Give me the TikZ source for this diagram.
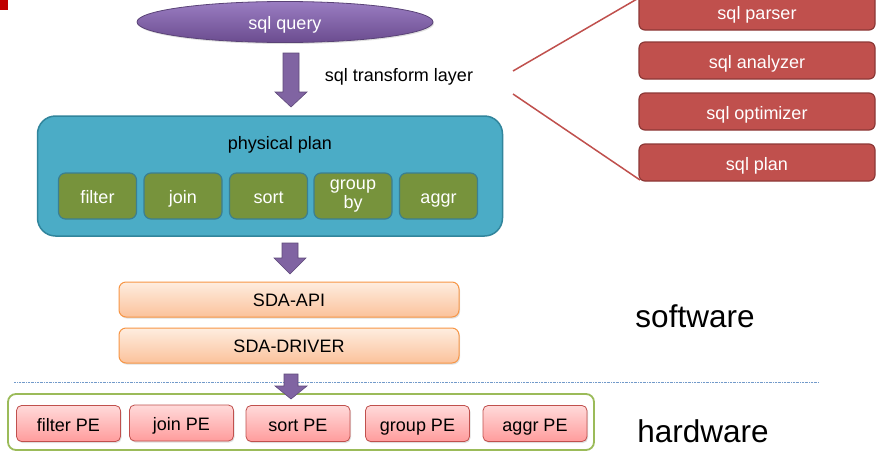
\documentclass[tikz,border=0pt]{standalone}
\usepackage{fontspec}
\setmainfont{Liberation Sans}
\usetikzlibrary{shapes.geometric,shadows}
\definecolor{sqlred}{HTML}{C0504D}
\definecolor{sqlredd}{HTML}{8C3836}
\definecolor{planfill}{HTML}{4BACC6}
\definecolor{planborder}{HTML}{31859C}
\definecolor{opgreen}{HTML}{77933C}
\definecolor{opborder}{HTML}{3A7F92}
\definecolor{purtop}{HTML}{9A7DC2}
\definecolor{purbot}{HTML}{6B4C8F}
\definecolor{purborder}{HTML}{5A4377}
\definecolor{arrfill}{HTML}{8064A2}
\definecolor{arrborder}{HTML}{5F4A7A}
\definecolor{orgtop}{HTML}{FEEDE0}
\definecolor{orgbot}{HTML}{FBC29B}
\definecolor{orgborder}{HTML}{F79646}
\definecolor{pinktop}{HTML}{FFDADA}
\definecolor{pinkbot}{HTML}{FF9C9C}
\definecolor{hwgreen}{HTML}{9BBB59}
\definecolor{dotblue}{HTML}{4F81BD}
\definecolor{cornerred}{HTML}{C00000}
\tikzset{
  base/.style={font=\fontsize{18}{20}\selectfont},
  fixtext/.style={text height=13pt, text depth=4pt},
  lowtext/.style={text height=15.5pt, text depth=0.5pt},
  redbox/.style={base, lowtext, rectangle, rounded corners=6pt, fill=sqlred, draw=sqlredd, line width=1.2pt, text=white, minimum width=236pt, minimum height=37pt},
  opboxbase/.style={base, rectangle, rounded corners=7pt, fill=opgreen, draw=opborder, line width=1.2pt, text=white, minimum width=78pt, minimum height=46pt, align=center, inner sep=1pt},
  opbox/.style={opboxbase, lowtext},
  sdabox/.style={base, text height=14pt, text depth=1pt, rectangle, rounded corners=7pt, top color=orgtop, bottom color=orgbot, draw=orgborder, line width=1pt, minimum width=340pt, minimum height=35pt, drop shadow={shadow xshift=1pt, shadow yshift=-1.5pt, opacity=0.25}},
  pebox/.style={base, lowtext, rectangle, rounded corners=5pt, top color=pinktop, bottom color=pinkbot, draw=sqlred, line width=0.8pt, minimum width=104pt, minimum height=36pt, drop shadow={shadow xshift=1pt, shadow yshift=-1.5pt, opacity=0.25}},
  barrow/.style={fill=arrfill, draw=arrborder, line width=0.6pt, line join=miter},
  bigtext/.style={font=\fontsize{31.5}{34}\selectfont, text height=22pt, text depth=0pt},
  redline/.style={draw=sqlred, line width=1.5pt}
}
\begin{document}
\begin{tikzpicture}[x=1pt,y=-1pt]
\useasboundingbox (0,0) rectangle (890,458);
\fill[white] (0,0) rectangle (890,458);
% corner mark
\fill[cornerred] (0,0) rectangle (8,10);

% sql query
\node[base, text height=14pt, text depth=0pt, ellipse, top color=purtop, bottom color=purbot, draw=purborder, line width=0.8pt, text=white, minimum width=296pt, minimum height=41pt, drop shadow={shadow xshift=1pt, shadow yshift=-1.5pt, opacity=0.25}] (query) at (285,22) {sql query};

% arrow 1
\draw[barrow] (283,53) -- (299,53) -- (299,92) -- (307,92) -- (291,107) -- (275,92) -- (283,92) -- cycle;
\node[base, fixtext] (trans) at (399,76.5) {sql transform layer};

% sql pipeline boxes
\node[redbox] (parser) at (757,11.5) {sql parser};
\node[redbox] (analyzer) at (757,60.5) {sql analyzer};
\node[redbox] (optimizer) at (757,111.5) {sql optimizer};
\node[redbox] (splan) at (757,162.5) {sql plan};

\coordinate (l1a) at (513,71);
\coordinate (l1b) at (637,-1);
\coordinate (l2a) at (513,94);
\coordinate (l2b) at (640,180);
\draw[redline] (l1a) -- (l1b);
\draw[redline] (l2a) -- (l2b);

% physical plan
\node[rectangle, rounded corners=18pt, fill=planfill, draw=planborder, line width=1.5pt, minimum width=465pt, minimum height=120pt] (plan) at (270,176) {};
\node[base, fixtext] (planlabel) at (280,144.5) {physical plan};
\node[opbox] (filter) at (97.5,196) {filter};
\node[opbox] (join) at (183,196) {join};
\node[opbox] (sort) at (268.5,196) {sort};
\node[opboxbase, font=\fontsize{18}{19}\selectfont] (group) at (353,196) {group\\by};
\node[opbox] (aggr) at (438.5,196) {aggr};

% arrow 2
\draw[barrow] (282,243) -- (298,243) -- (298,258) -- (306,258) -- (290,274) -- (274,258) -- (282,258) -- cycle;

% SDA layers
\node[sdabox] (api) at (289,299.5) {SDA-API};
\node[sdabox] (driver) at (289,345.5) {SDA-DRIVER};

% separator
\coordinate (sepa) at (14,382);
\coordinate (sepb) at (819,382);
\draw[dotblue!80, line width=0.7pt, dash pattern=on 2pt off 1pt on 0.5pt off 1pt] (sepa) -- (sepb);

% hardware group
\node[rectangle, rounded corners=8pt, draw=hwgreen, line width=1.8pt, minimum width=586pt, minimum height=56pt] (hw) at (301,422) {};

% arrow 3
\draw[barrow] (284,374) -- (298,374) -- (298,386) -- (307,386) -- (291,399) -- (275,386) -- (284,386) -- cycle;

\node[pebox] (filterpe) at (68.5,423.5) {filter PE};
\node[pebox] (joinpe) at (181.5,423) {join PE};
\node[pebox] (sortpe) at (298,423.5) {sort PE};
\node[pebox] (grouppe) at (417.5,423.5) {group PE};
\node[pebox] (aggrpe) at (535,423.5) {aggr PE};

\node[bigtext] (sw) at (695,316) {software};
\node[bigtext] (hwlabel) at (703,431) {hardware};
\end{tikzpicture}
\end{document}
